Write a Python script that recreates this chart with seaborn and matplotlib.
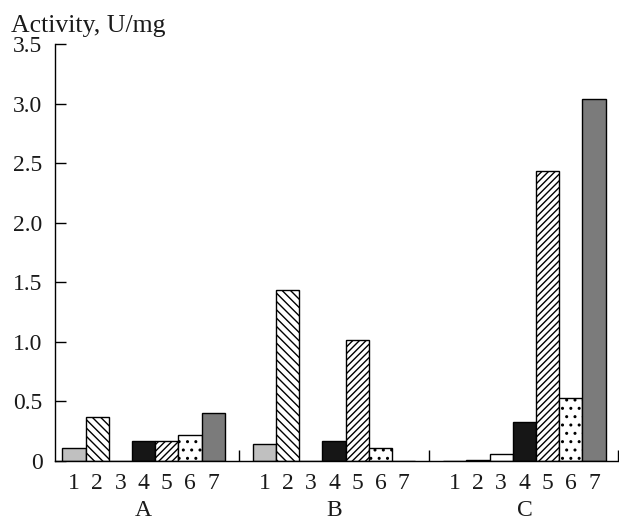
import pandas as pd
import matplotlib
matplotlib.use('Agg')
from matplotlib import pyplot as plt
from matplotlib import transforms
import seaborn as sns

groups = ['A', 'B', 'C']
items = ['1', '2', '3', '4', '5', '6', '7']
vals_a = [0.11, 0.37, 0.0, 0.17, 0.17, 0.22, 0.40]
vals_b = [0.14, 1.44, 0.0, 0.17, 1.02, 0.11, 0.0]
vals_c = [0.0, 0.01, 0.06, 0.33, 2.44, 0.53, 3.04]
yticks = [0, 0.5, 1.0, 1.5, 2.0, 2.5, 3.0, 3.5]
ytick_labels = ['0', '0.5', '1.0', '1.5', '2.0', '2.5', '3.0', '3.5']

colors = ['#c0c0c0', 'white', 'white', '#161616', 'white', 'white', '#7b7b7b']
hatches = ['', '\\\\\\\\', '', '', '/////', '..', '']

rows = []
for g, vals in zip(groups, [vals_a, vals_b, vals_c]):
  for it, v in zip(items, vals):
    rows.append({'group': g, 'item': it, 'value': v})
df = pd.DataFrame(rows)

sns.set_style('ticks')
plt.rcParams['font.family'] = ['Liberation Serif', 'DejaVu Serif']
plt.rcParams['hatch.linewidth'] = 1.0
plt.rcParams['text.color'] = '#1a1a1a'

fig = plt.figure(figsize=(6.19, 5.19), dpi=100)
ax = fig.add_axes([0.0889, 0.1118, 0.9091, 0.8025])

width = 0.853
sns.barplot(data=df, x='group', y='value', hue='item', palette=dict(zip(items, colors)),
            width=width, gap=0, edgecolor='black', linewidth=1.0, legend=False,
            errorbar=None, saturation=1, ax=ax)

for cont, h in zip(ax.containers, hatches):
  for bar in cont:
    bar.set_hatch(h)

ax.set_xlim(-0.465, 2.49)
ax.set_ylim(0, 3.5)
ax.set_yticks(yticks)
ax.set_yticklabels(ytick_labels)
ax.set_xlabel('')
ax.set_ylabel('')

sns.despine(ax=ax)
for s in ['left', 'bottom']:
  ax.spines[s].set_color('black')
  ax.spines[s].set_linewidth(1.0)

# group boundary ticks, numbers under bars, letters under groups
bw = width / len(items)
centers = [g - width / 2 + (j + 0.5) * bw for g in range(len(groups)) for j in range(len(items))]
ax.set_xticks([0.5, 1.5, 2.49])
ax.set_xticklabels([])
ax.set_xticks(centers, minor=True)
ax.set_xticklabels(items * len(groups), minor=True)
ax.tick_params(axis='x', which='major', direction='in', length=8, width=1, color='black')
ax.tick_params(axis='x', which='minor', length=0, pad=9, labelsize=17, labelcolor='#1a1a1a')
ax.tick_params(axis='y', direction='in', length=8, width=1, color='black', pad=9,
               labelsize=17, labelcolor='#1a1a1a')

trans = transforms.blended_transform_factory(ax.transData, fig.transFigure)
for i, g in enumerate(groups):
  ax.text(i, 1 - 510 / 519, g, transform=trans, ha='center', va='center', fontsize=17)

fig.text(0.017, 1 - 32 / 519, 'Activity, U/mg', ha='left', va='baseline', fontsize=18.5)

plt.savefig('out.png', dpi=100)
